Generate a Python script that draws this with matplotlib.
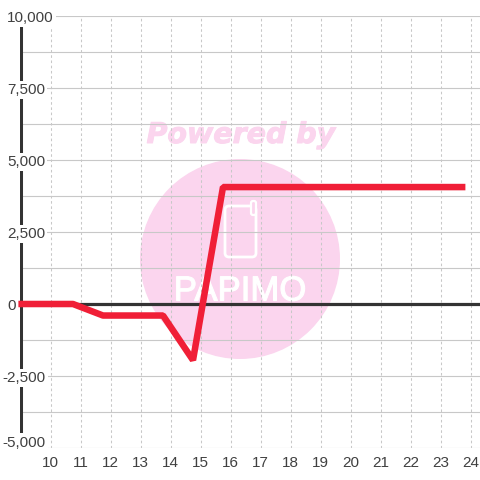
import matplotlib
matplotlib.use("Agg")
import matplotlib.pyplot as plt
import matplotlib.patches as patches
import matplotlib.patheffects as pe
from matplotlib.transforms import blended_transform_factory

hours = [8.93, 10.75, 11.75, 13.75, 14.75, 15.75, 23.83]
profit = [0, 0, -400, -400, -1950, 4060, 4060]

x_ticks = list(range(10, 25))
y_major = [10000, 7500, 5000, 2500, 0, -2500, -5000]
y_minor = [8750, 6250, 3750, 1250, -1250, -3750]
y_labels = ["10,000", "7,500", "5,000", "2,500", "0", "-2,500", "-5,000"]

GRID = "#c8c8c8"
DARK = "#333333"
TEXT = "#404040"
RED = "#f01f37"
PINK = "#fbd5ee"
W = 480


def px_x(px):
    # pixel column -> hour value
    return 10 + (px - 50.5) / 30


plt.rcParams["font.family"] = ["Liberation Sans", "DejaVu Sans"]

fig = plt.figure(figsize=(4.8, 4.8), dpi=100, facecolor="white")
ax = fig.add_axes([20 / W, 32 / W, 460 / W, 432 / W], frameon=False)
ax.set_xlim(px_x(20), px_x(480))
ax.set_ylim(-5000, 10000)

# watermark, in pixels, sits under the grid
wm = fig.add_axes([0, 0, 1, 1], frameon=False, zorder=0)
wm.set_xlim(0, W)
wm.set_ylim(W, 0)
wm.set_axis_off()
wm.add_patch(patches.Circle((240, 259), 100, fc=PINK, ec="none"))
wm.text(241, 135, "Powered by", ha="center", va="center", fontsize=20.5,
        family="DejaVu Sans", weight="bold", style="italic", color=PINK,
        path_effects=[pe.withStroke(linewidth=0.7, foreground=PINK)])
wm.add_patch(patches.FancyBboxPatch((225, 206), 31, 51, boxstyle="round,pad=0,rounding_size=4",
                                    fc="none", ec="white", lw=2))
wm.add_patch(patches.FancyBboxPatch((251, 201), 5, 14, boxstyle="round,pad=0,rounding_size=2",
                                    fc=PINK, ec="white", lw=1.6))
wm.text(240, 291, "PAPIMO", ha="center", va="center", fontsize=25, color="white",
        path_effects=[pe.withStroke(linewidth=0.8, foreground="white")])
ax.set_zorder(1)
ax.patch.set_alpha(0)

for v in y_major + y_minor:
    ax.axhline(v, color=GRID, lw=0.8, zorder=1)
for x in x_ticks:
    ax.axvline(x, color=GRID, lw=0.75, ls=(0, (2.5, 2.5)), zorder=1)

ax.axvline(px_x(20.5), color=DARK, lw=2.9, zorder=2)
ax.axhline(0, color=DARK, lw=2.3, zorder=2)
ax.plot(hours, profit, color=RED, lw=4.7, solid_joinstyle="bevel",
        solid_capstyle="butt", clip_on=False, zorder=3)

ax.set_xticks(x_ticks)
ax.set_xticklabels([str(x) for x in x_ticks])
ax.set_yticks([])
ax.tick_params(axis="x", length=0, pad=6, labelsize=11, labelcolor=TEXT)

# y labels hang off the left edge with a white box cutting the axis line
trans = blended_transform_factory(fig.transFigure, ax.transData)
for v, lab in zip(y_major, y_labels):
    left = 2.7 if lab.startswith("-") else 7
    # bottom label sits above its grid line
    y = v + 250 if v == y_major[-1] else v
    ax.text(left / W, y - 60, lab, transform=trans, ha="left", va="center",
            fontsize=11, color=TEXT, zorder=2.5, clip_on=False,
            bbox=dict(fc="white", ec="none", pad=1.5))

fig.savefig("out.png", dpi=100)
